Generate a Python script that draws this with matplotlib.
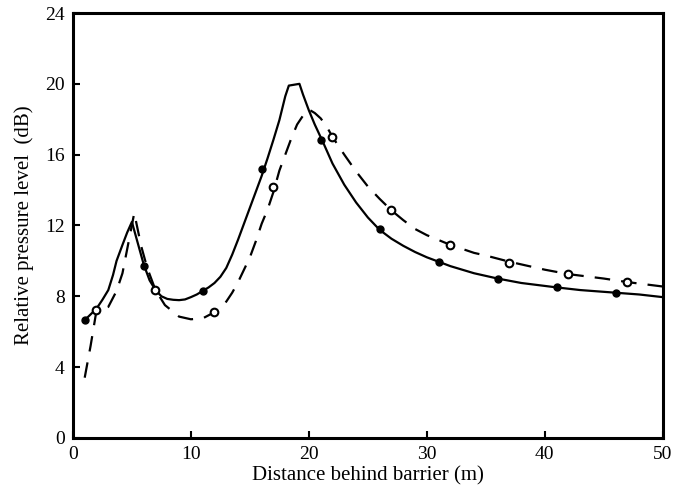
import matplotlib
matplotlib.use("Agg")
import matplotlib.pyplot as plt
import numpy as np

# solid curve
x_solid = [1, 2, 2.5, 3, 3.4, 3.7, 4.2, 4.6, 5, 5.5, 6, 6.5, 7, 7.5, 8, 8.5, 9, 9.5, 10,
           10.5, 11, 11.5, 12, 12.5, 13, 13.5, 14, 14.5, 15, 15.5, 16, 16.5, 17, 17.5, 18,
           18.3, 19.2, 19.5, 20, 20.5, 21.2, 22, 23, 24, 25, 26, 27, 28, 29, 30, 31, 32,
           33, 34, 36, 38, 41, 43, 46, 48, 50]
y_solid = [6.65, 7.3, 7.8, 8.35, 9.2, 10.0, 10.9, 11.6, 12.2, 11.0, 9.8, 8.9, 8.35, 8.0,
           7.85, 7.8, 7.78, 7.82, 7.95, 8.1, 8.3, 8.5, 8.75, 9.1, 9.6, 10.35, 11.2, 12.1,
           13.0, 13.9, 14.8, 15.8, 16.85, 17.95, 19.3, 19.9, 20.0, 19.4, 18.5, 17.7, 16.7,
           15.5, 14.3, 13.3, 12.45, 11.75, 11.25, 10.85, 10.5, 10.2, 9.95, 9.7, 9.5, 9.3,
           9.0, 8.75, 8.5, 8.35, 8.2, 8.1, 7.95]
x_solid_mk = [1, 6, 11, 16, 21, 26, 31, 36, 41, 46]
y_solid_mk = [6.65, 9.7, 8.3, 15.2, 16.8, 11.8, 9.95, 9.0, 8.5, 8.2]

# dashed curve
x_dash = [1, 1.5, 2, 3, 3.7, 4.2, 4.7, 5.2, 5.8, 6.3, 7, 7.8, 9, 10, 11, 12, 12.5, 13,
          13.5, 14, 14.5, 15, 15.5, 16, 16.5, 17, 17.5, 18, 18.5, 19, 19.5, 20, 20.5, 21,
          21.5, 22, 22.5, 23, 24, 25, 26, 27, 28, 29, 30, 32, 34, 35, 37, 40, 42, 45, 47, 50]
y_dash = [3.4, 5.2, 7.2, 7.4, 8.3, 9.3, 11.0, 12.7, 10.8, 9.6, 8.35, 7.5, 6.85, 6.7, 6.75,
          7.1, 7.35, 7.7, 8.2, 8.8, 9.5, 10.2, 11.1, 12.1, 12.9, 13.9, 15.1, 16.0, 16.9,
          17.7, 18.2, 18.55, 18.35, 18.05, 17.6, 17.0, 16.5, 16.0, 15.05, 14.2, 13.5, 12.85,
          12.3, 11.8, 11.45, 10.9, 10.45, 10.3, 9.95, 9.5, 9.25, 9.0, 8.8, 8.55]
x_dash_mk = [2, 7, 12, 17, 22, 27, 32, 37, 42, 47]
y_dash_mk = [7.25, 8.35, 7.1, 14.2, 17.0, 12.85, 10.9, 9.9, 9.25, 8.8]

xticks = [0, 10, 20, 30, 40, 50]
yticks = [0, 4, 8, 12, 16, 20, 24]

plt.rcParams['font.family'] = ['Liberation Serif', 'DejaVu Serif']

fig = plt.figure(figsize=(6.75, 5.01), dpi=100)
ax = fig.add_axes([0.108, 0.126, 0.874, 0.848])

ax.plot(x_solid, y_solid, color='k', lw=1.6)
ax.plot(x_solid_mk, y_solid_mk, 'o', color='k', ms=5)
ax.plot(x_dash, y_dash, color='k', lw=1.6, dashes=(7, 5))
ax.plot(x_dash_mk, y_dash_mk, 'o', mfc='white', mec='k', mew=1.5, ms=5.5)

ax.set_xlim(0, 50)
ax.set_ylim(0, 24)
ax.set_xticks(xticks)
ax.set_yticks(yticks)
ax.tick_params(direction='in', length=5, width=1.5, labelsize=14, pad=6)
for s in ax.spines.values():
    s.set_linewidth(2.2)

ax.set_xlabel('Distance behind barrier (m)', fontsize=15, labelpad=2)
ax.set_ylabel('Relative pressure level  (dB)', fontsize=15, labelpad=8)

fig.savefig('out.png', dpi=100)
